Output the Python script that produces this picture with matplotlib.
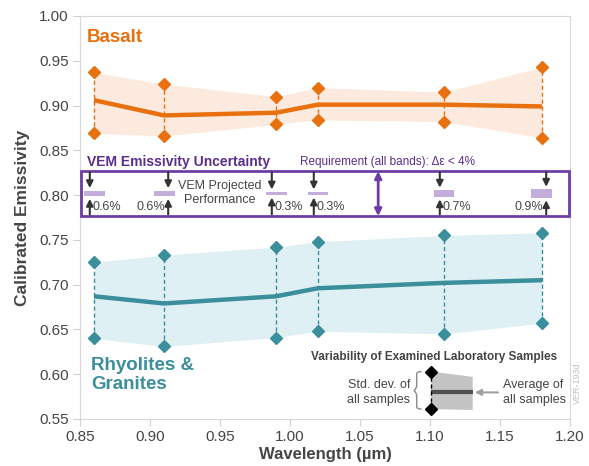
import matplotlib
matplotlib.use('Agg')
import matplotlib.pyplot as plt
from matplotlib.patches import Rectangle, Polygon
from matplotlib.path import Path
from matplotlib.patches import PathPatch

plt.rcParams['font.family'] = ['Liberation Sans', 'DejaVu Sans']

# ---- data ----
wl = [0.86, 0.91, 0.99, 1.02, 1.11, 1.18]
bas_mean = [0.906, 0.889, 0.892, 0.901, 0.901, 0.899]
bas_hi = [0.937, 0.924, 0.910, 0.920, 0.915, 0.943]
bas_lo = [0.869, 0.866, 0.879, 0.884, 0.882, 0.864]
rhy_mean = [0.687, 0.679, 0.687, 0.696, 0.702, 0.705]
rhy_hi = [0.725, 0.733, 0.742, 0.748, 0.755, 0.758]
rhy_lo = [0.640, 0.631, 0.641, 0.648, 0.645, 0.657]
unc_pct = [0.6, 0.6, 0.3, 0.3, 0.7, 0.9]
unc_side = ['right', 'left', 'right', 'right', 'right', 'left']
# schematic key ("Variability of Examined Laboratory Samples")
key_x = [1.101, 1.1305]
key_hi = [0.603, 0.597]
key_lo = [0.561, 0.560]
key_mean = [0.5797, 0.5797]

ORANGE = '#E8700E'; ORANGE_F = '#FDEADF'
TEAL = '#3B8E9C'; TEAL_F = '#DFF0F4'
PURPLE = '#6E3FA3'; PURPLE_T = '#5B2D8E'; PURPLE_BAR = '#C3ADDB'
GREY = '#454545'

fig = plt.figure(figsize=(5.89, 4.66), dpi=100)
ax = fig.add_axes([80/589, 1-419/466, 490/589, 403/466])
ax.set_xlim(0.85, 1.20); ax.set_ylim(0.55, 1.00)

for mean, hi, lo, col, fcol in [(bas_mean, bas_hi, bas_lo, ORANGE, ORANGE_F),
                                (rhy_mean, rhy_hi, rhy_lo, TEAL, TEAL_F)]:
    ax.fill_between(wl, lo, hi, color=fcol, lw=0, zorder=1)
    ax.vlines(wl, lo, hi, colors=col, linestyles=(0, (3, 2)), lw=1, zorder=2)
    ax.plot(wl, mean, color=col, lw=3.2, zorder=3, solid_capstyle='butt')
    ax.plot(wl, hi, ls='none', marker='D', ms=6.5, color=col, zorder=4)
    ax.plot(wl, lo, ls='none', marker='D', ms=6.5, color=col, zorder=4)

ax.text(0.8545, 0.9762, 'Basalt', color=ORANGE, fontsize=13.5, fontweight='bold', va='center')
ax.text(0.858, 0.599, 'Rhyolites &\nGranites', color=TEAL, fontsize=13.5, fontweight='bold',
        va='center', linespacing=1.2)

# ---- VEM uncertainty box ----
box_lo, box_hi = 0.7765, 0.8267
ax.add_patch(Rectangle((0.8505, box_lo), 1.1993-0.8505, box_hi-box_lo, fill=False,
                       ec=PURPLE, lw=2, zorder=5, clip_on=False))
ax.text(0.855, 0.837, 'VEM Emissivity Uncertainty', color=PURPLE_T, fontsize=10,
        fontweight='bold', va='center')
ax.text(1.007, 0.837, 'Requirement (all bands): Δε < 4%', color=PURPLE_T, fontsize=8.5, va='center')
ax.annotate('', xy=(1.063, box_hi), xytext=(1.063, box_lo),
            arrowprops=dict(arrowstyle='<|-|>', color=PURPLE, lw=2, mutation_scale=10,
                            shrinkA=0, shrinkB=0), zorder=6)
ax.text(0.95, 0.802, 'VEM Projected\nPerformance', color=GREY, fontsize=9, ha='center',
        va='center', linespacing=1.2)

yc = 0.8018
for w, u, side in zip(wl, unc_pct, unc_side):
    h = u/100
    ax.add_patch(Rectangle((w-0.0075, yc-h/2), 0.015, h, color=PURPLE_BAR, lw=0, zorder=5))
    xa = w - 0.003 if side == 'right' else w + 0.003
    ax.annotate('', xy=(xa, yc+h/2+0.003), xytext=(xa, 0.8255),
                arrowprops=dict(arrowstyle='-|>', color='#333333', lw=1.5, mutation_scale=10,
                                shrinkA=0, shrinkB=0), zorder=6)
    ax.annotate('', xy=(xa, yc-h/2-0.003), xytext=(xa, 0.7785),
                arrowprops=dict(arrowstyle='-|>', color='#333333', lw=1.5, mutation_scale=10,
                                shrinkA=0, shrinkB=0), zorder=6)
    if side == 'right':
        ax.text(xa+0.002, 0.7872, f'{u:.1f}%', color=GREY, fontsize=9, ha='left', va='center')
    else:
        ax.text(xa-0.002, 0.7872, f'{u:.1f}%', color=GREY, fontsize=9, ha='right', va='center')

# ---- key ----
ax.text(1.103, 0.6187, 'Variability of Examined Laboratory Samples', color='#444444',
        fontsize=8.5, fontweight='bold', ha='center', va='center',
        family=['Liberation Sans Narrow', 'Liberation Sans'])
ax.add_patch(Polygon([(key_x[0], key_hi[0]), (key_x[1], key_hi[1]),
                      (key_x[1], key_lo[1]), (key_x[0], key_lo[0])],
                     closed=True, color='#C4C4C4', lw=0, zorder=5))
ax.plot(key_x, key_mean, color='#505050', lw=3, zorder=6, solid_capstyle='butt')
ax.vlines(key_x[0], key_lo[0], key_hi[0], colors='black', linestyles=(0, (3, 2)), lw=1, zorder=6)
ax.plot([key_x[0]]*2, [key_hi[0], key_lo[0]], ls='none', marker='D', ms=6.5, color='black', zorder=7)
ax.annotate('', xy=(1.132, key_mean[0]), xytext=(1.1486, key_mean[0]),
            arrowprops=dict(arrowstyle='-|>', color='#A0A0A0', lw=1.5, mutation_scale=9,
                            shrinkA=0, shrinkB=0))
ax.text(1.152, 0.5797, 'Average of\nall samples', color=GREY, fontsize=9, ha='left', va='center',
        linespacing=1.3)
ax.text(1.0857, 0.5797, 'Std. dev. of\nall samples', color=GREY, fontsize=9, ha='right', va='center',
        linespacing=1.3)
# curly brace
bx0, bx1, bm = 1.0885, 1.094, 0.5817
ytop, ybot = key_hi[0], key_lo[0]
verts = [(bx1, ytop), (bx0+0.002, ytop), (bx0+0.002, ytop-0.003), (bx0+0.002, bm+0.006),
         (bx0+0.002, bm+0.002), (bx0, bm), (bx0, bm),
         (bx0, bm), (bx0+0.002, bm-0.002), (bx0+0.002, bm-0.006),
         (bx0+0.002, ybot+0.003), (bx0+0.002, ybot), (bx1, ybot)]
codes = [Path.MOVETO, Path.CURVE3, Path.CURVE3, Path.LINETO, Path.CURVE3, Path.CURVE3, Path.LINETO,
         Path.MOVETO, Path.CURVE3, Path.CURVE3, Path.LINETO, Path.CURVE3, Path.CURVE3]
ax.add_patch(PathPatch(Path(verts, codes), fill=False, ec='#8A8A8A', lw=1, zorder=6))
fig.text(577.7/589, 1-383/466, 'VER-193d', rotation=90, color='#C0C0C0', fontsize=6.5,
         ha='center', va='center')

# ---- axes styling ----
ax.set_xticks([0.85, 0.90, 0.95, 1.00, 1.05, 1.10, 1.15, 1.20])
ax.set_yticks([0.55, 0.60, 0.65, 0.70, 0.75, 0.80, 0.85, 0.90, 0.95, 1.00])
ax.xaxis.set_major_formatter(matplotlib.ticker.FormatStrFormatter('%.2f'))
ax.yaxis.set_major_formatter(matplotlib.ticker.FormatStrFormatter('%.2f'))
ax.tick_params(direction='out', length=5, width=0.8, color='#D0D0D0', labelcolor=GREY,
               labelsize=11, pad=3)
for s in ax.spines.values():
    s.set_color('#D8D8D8'); s.set_linewidth(0.8)
ax.set_xlabel('Wavelength (µm)', fontsize=12, fontweight='bold', color=GREY, labelpad=2)
ax.set_ylabel('Calibrated Emissivity', fontsize=12.5, fontweight='bold', color=GREY, labelpad=7)

fig.savefig('out.png', dpi=100)
